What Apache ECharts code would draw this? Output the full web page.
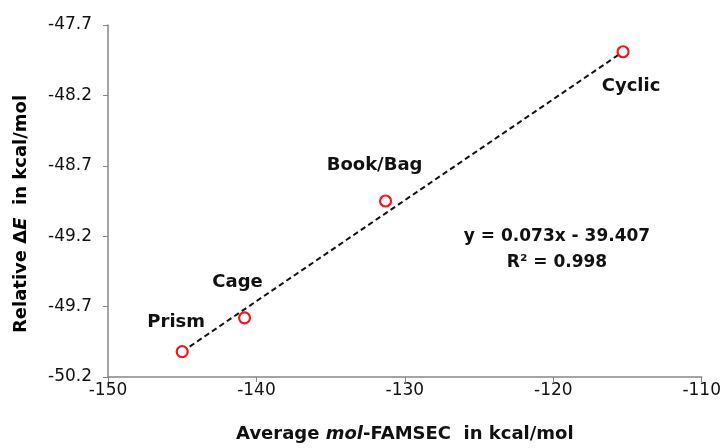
<!DOCTYPE html>
<html>
<head>
<meta charset="utf-8">
<script src="https://cdn.jsdelivr.net/npm/echarts@6/dist/echarts.min.js"></script>
<style>
  html, body { margin: 0; padding: 0; background: #fff; }
  #chart { width: 724px; height: 448px; }
</style>
</head>
<body>
<div id="chart"></div>
<script>
// Cluster geometries and their values
const names = ['Prism', 'Cage', 'Book/Bag', 'Cyclic'];
const famsec = [-145.0, -140.8, -131.3, -115.3];      // Average mol-FAMSEC (kcal/mol)
const deltaE = [-50.02, -49.78, -48.95, -47.89];      // Relative ΔE (kcal/mol)

// Linear fit drawn between the first and last cluster
const trendX = [-145.0, -115.3];
const trendY = [-50.02, -47.89];
const fitText = ['y = 0.073x - 39.407', 'R² = 0.998'];

// Label offsets around each point (px)
const labelOffsets = [[-6, -29], [-7, -36], [-11, -36], [8, 35]];

const FONT = '"DejaVu Sans", Verdana, sans-serif';
const INK = '#111';

const chart = echarts.init(document.getElementById('chart'), null, { renderer: 'canvas' });

const points = names.map((n, i) => ({
  name: n,
  value: [famsec[i], deltaE[i]],
  label: { offset: labelOffsets[i] }
}));

const titleRich = {
  b: { fontSize: 18, fontWeight: 'bold', fontFamily: FONT, color: INK },
  i: { fontSize: 18, fontWeight: 'bold', fontStyle: 'italic', fontFamily: FONT, color: INK }
};

chart.setOption({
  animation: false,
  backgroundColor: '#fff',
  grid: { left: 108, top: 25, right: 21, bottom: 70 },
  xAxis: {
    type: 'value',
    min: -150, max: -110, interval: 10,
    axisLine: { show: true, lineStyle: { color: '#858585', width: 1.5 } },
    axisTick: { show: true, length: 5, lineStyle: { color: '#858585' } },
    splitLine: { show: false },
    axisLabel: { color: INK, fontSize: 17, fontFamily: FONT, margin: 5 },
    name: '{b|Average }{i|mol}{b|-FAMSEC  in kcal/mol}',
    nameLocation: 'middle',
    nameGap: 48,
    nameTextStyle: { rich: titleRich }
  },
  yAxis: {
    type: 'value',
    min: -50.2, max: -47.7, interval: 0.5,
    axisLine: { show: true, lineStyle: { color: '#858585', width: 1.5 } },
    axisTick: { show: true, length: 5, lineStyle: { color: '#858585' } },
    splitLine: { show: false },
    axisLabel: {
      color: INK, fontSize: 17, fontFamily: FONT, margin: 16,
      formatter: v => v.toFixed(1)
    }
  },
  series: [
    {
      type: 'line',
      data: trendX.map((x, i) => [x, trendY[i]]),
      symbol: 'none',
      lineStyle: { color: '#111', width: 2, type: [5.5, 3.5] },
      z: 2,
      silent: true
    },
    {
      type: 'scatter',
      data: points,
      symbol: 'circle',
      symbolSize: 11,
      itemStyle: { color: '#fff', borderColor: '#f01818', borderWidth: 2.2, opacity: 1 },
      label: {
        show: true,
        position: 'inside',
        formatter: p => p.name,
        fontSize: 18,
        fontWeight: 'bold',
        fontFamily: FONT,
        color: INK,
        textBorderWidth: 0,
        textBorderColor: 'transparent'
      },
      z: 3
    }
  ],
  graphic: [
    {
      // y-axis title, reading bottom to top
      type: 'text', x: 21, y: 214, rotation: Math.PI / 2,
      style: {
        text: '{b|Relative Δ}{i|E}{b|  in kcal/mol}',
        rich: titleRich,
        align: 'center', verticalAlign: 'middle'
      }
    },
    {
      type: 'text', x: 557, y: 237,
      style: { text: fitText[0], fontSize: 17, fontWeight: 'bold', fontFamily: FONT, fill: INK, align: 'center', verticalAlign: 'middle' }
    },
    {
      type: 'text', x: 557, y: 263,
      style: { text: fitText[1], fontSize: 17, fontWeight: 'bold', fontFamily: FONT, fill: INK, align: 'center', verticalAlign: 'middle' }
    }
  ]
});
</script>
</body>
</html>
